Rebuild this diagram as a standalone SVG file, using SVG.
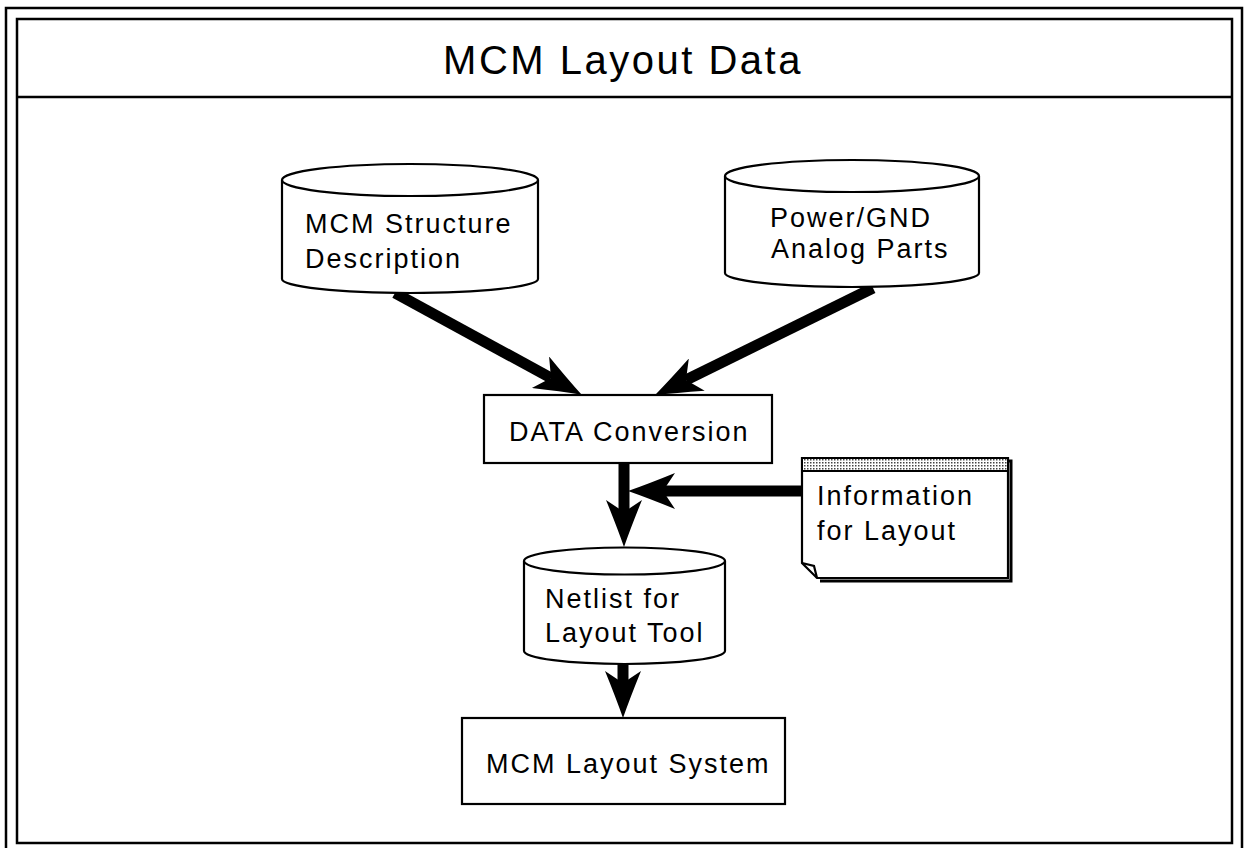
<svg xmlns="http://www.w3.org/2000/svg" width="1245" height="848" viewBox="0 0 1245 848">
<defs>
<style>
.frame{fill:none;stroke:#000;stroke-width:2.5}
.shape{fill:#fff;stroke:#000;stroke-width:2.2}
.line{fill:none;stroke:#000;stroke-width:2.2}
.txt{font-family:"Liberation Sans",Arial,sans-serif;font-size:27px;letter-spacing:2px;fill:#000}
.title{font-family:"Liberation Sans",Arial,sans-serif;font-size:40px;letter-spacing:2.5px;fill:#000}
.conn{fill:none;stroke:#000;stroke-width:11}
</style>
<pattern id="dots" width="3" height="3" patternUnits="userSpaceOnUse">
<rect width="3" height="3" fill="#fff"/>
<rect width="1.5" height="1.5" fill="#444"/>
</pattern>
<marker id="arr" markerUnits="userSpaceOnUse" viewBox="0 0 48 36" markerWidth="48" markerHeight="36" refX="13" refY="18" orient="auto">
<path d="M48,18 Q28,11 1,0 L13,18 L1,36 Q28,25 48,18 Z" fill="#000"/>
</marker>
</defs>
<g id="frame">
<rect class="frame" x="6" y="8" width="1236" height="850"/>
<rect class="frame" x="17" y="19" width="1215" height="824"/>
<line class="frame" x1="17" y1="97" x2="1232" y2="97"/>
<text class="title" x="623" y="74" text-anchor="middle">MCM Layout Data</text>
</g>
<g id="connectors">
<line class="conn" x1="395" y1="293" x2="551" y2="378" marker-end="url(#arr)"/>
<line class="conn" x1="873" y1="288" x2="686" y2="380" marker-end="url(#arr)"/>
<line class="conn" x1="624" y1="463" x2="624" y2="512" marker-end="url(#arr)"/>
<line class="conn" x1="802" y1="491" x2="663" y2="491" marker-end="url(#arr)"/>
<line class="conn" x1="623" y1="664" x2="623" y2="683" marker-end="url(#arr)"/>
</g>
<g id="mcm-structure">
<path class="shape" d="M282,180 A128,16 0 0 1 538,180 L538,279 A128,14 0 0 1 282,279 Z"/>
<path class="line" d="M282,180 A128,16 0 0 0 538,180"/>
<text class="txt" x="305" y="233">MCM Structure</text>
<text class="txt" x="305" y="268">Description</text>
</g>
<g id="power-gnd">
<path class="shape" d="M725,176 A127,16 0 0 1 979,176 L979,273 A127,14 0 0 1 725,273 Z"/>
<path class="line" d="M725,176 A127,16 0 0 0 979,176"/>
<text class="txt" x="770" y="227">Power/GND</text>
<text class="txt" x="771" y="258">Analog Parts</text>
</g>
<g id="data-conversion">
<rect class="shape" x="484" y="395" width="288" height="68"/>
<text class="txt" x="509" y="441">DATA Conversion</text>
</g>
<g id="info-layout">
<path d="M805,461 L1011,461 L1011,581 L820,581" fill="none" stroke="#000" stroke-width="3"/>
<path class="shape" d="M802,458 L1008,458 L1008,578 L817,578 L802,563 Z"/>
<rect x="803" y="459" width="204" height="12" fill="url(#dots)"/>
<line class="line" x1="802" y1="471" x2="1008" y2="471" stroke-width="1"/>
<path class="line" d="M802,563 L814,566 L817,578" stroke-width="1.5"/>
<text class="txt" x="817" y="505">Information</text>
<text class="txt" x="817" y="540">for Layout</text>
</g>
<g id="netlist">
<path class="shape" d="M524,561 A100.5,13.5 0 0 1 725,561 L725,651 A100.5,13 0 0 1 524,651 Z"/>
<path class="line" d="M524,561 A100.5,13.5 0 0 0 725,561"/>
<text class="txt" x="545" y="608">Netlist for</text>
<text class="txt" x="545" y="642">Layout Tool</text>
</g>
<g id="mcm-layout-system">
<rect class="shape" x="462" y="718" width="323" height="86"/>
<text class="txt" x="486" y="773">MCM Layout System</text>
</g>
</svg>
